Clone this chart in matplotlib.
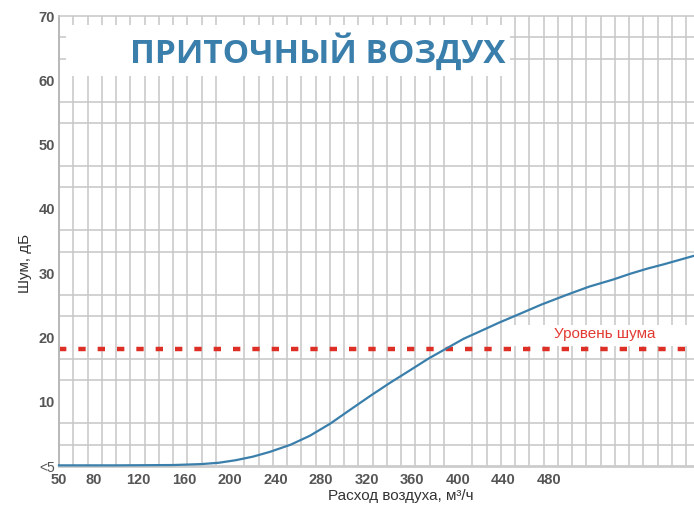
import numpy as np
import matplotlib
matplotlib.use("Agg")
import matplotlib.pyplot as plt
from matplotlib.patches import Rectangle

# airflow, m3/h  vs  noise, dB
flow = [50, 100, 150, 175, 190, 205, 220, 235, 253, 270, 288, 305, 323, 340,
        358, 374, 390, 405, 420, 436, 452, 473, 495, 515, 536, 551, 566, 581,
        595, 607]
noise = [0.1, 0.1, 0.15, 0.3, 0.5, 0.9, 1.45, 2.2, 3.3, 4.7, 6.6, 8.7, 10.9,
         12.9, 14.9, 16.7, 18.3, 19.8, 21.0, 22.3, 23.5, 25.1, 26.6, 27.9,
         29.0, 29.9, 30.7, 31.4, 32.1, 32.7]
noise_level = 18.2

x_ticks = [50, 80, 120, 160, 200, 240, 280, 320, 360, 400, 440, 480]
y_ticks = [0, 10, 20, 30, 40, 50, 60, 70]
y_ticklabels = ["<5", "10", "20", "30", "40", "50", "60", "70"]

title = "ПРИТОЧНЫЙ ВОЗДУХ"
level_label = "Уровень шума"
xlabel = "Расход воздуха, м³/ч"
ylabel = "Шум, дБ"

W, H = 694, 508
fig = plt.figure(figsize=(W / 100, H / 100), dpi=100)
ax = fig.add_axes([59 / W, (H - 466) / H, (W - 59) / W, (466 - 16) / H])

ax.set_xlim(50, 607)
ax.set_ylim(0, 70)

grid_c = "#c6c6c6"
ax.set_xticks(np.arange(50, 607, 12.5), minor=True)
ax.set_yticks(np.arange(0, 70.1, 10 / 3), minor=True)
ax.grid(which="minor", color=grid_c, lw=1.1, zorder=0)
ax.set_axisbelow(True)

ax.set_xticks(x_ticks)
ax.set_yticks(y_ticks)
ax.set_yticklabels(y_ticklabels)
ax.tick_params(which="both", length=0)
ax.tick_params(axis="x", pad=5)
ax.tick_params(axis="y", pad=3)
tick_font = ["Liberation Sans Narrow", "Liberation Sans", "DejaVu Sans"]
for lab in ax.get_xticklabels() + ax.get_yticklabels():
    lab.set_family(tick_font)
    lab.set_fontweight("bold")
    lab.set_fontsize(10.5)
    lab.set_color("#555555")
ax.get_yticklabels()[0].set_fontweight("normal")
ax.get_yticklabels()[0].set_fontsize(10)

ax.spines["right"].set_visible(False)
ax.spines["top"].set_color(grid_c)
ax.spines["top"].set_linewidth(1.1)
ax.spines["left"].set_color("#b8b8b8")
ax.spines["left"].set_linewidth(1.4)
ax.spines["bottom"].set_color("#cccccc")
ax.spines["bottom"].set_linewidth(2)

# white boxes behind the title and the level label
ax.add_patch(Rectangle((56.1, 60.67), 445.6 - 56.1, 68.6 - 60.67,
                       facecolor="white", edgecolor="none", zorder=1))
ax.add_patch(Rectangle((445.6, 18.7), 607 - 445.6, 22.0 - 18.7,
                       facecolor="white", edgecolor="none", zorder=1))

ax.text(277, 64.4, title, ha="center", va="center", fontsize=24,
        fontweight="bold", color="#3a7fab", family=["Open Sans", "DejaVu Sans"],
        zorder=3)

ax.axhline(noise_level, color="#dd2f26", lw=3.2, ls=(0, (1.65, 2.7)), zorder=2)
ax.text(529, 20.55, level_label, ha="center", va="center", fontsize=11,
        color="#e23a32", family=["Liberation Sans", "DejaVu Sans"], zorder=3)

ax.plot(flow, noise, color="#3a7fab", lw=1.6, zorder=4, clip_on=False)

fig.text(401 / W, 1 - 496 / H, xlabel, ha="center", va="center", fontsize=11,
         color="#333333", family=["Liberation Sans", "DejaVu Sans"])
fig.text(25 / W, 1 - 263 / H, ylabel, ha="center", va="center", rotation=90,
         fontsize=11, color="#333333", family=["Liberation Sans", "DejaVu Sans"])

fig.savefig("out.png", dpi=100)
